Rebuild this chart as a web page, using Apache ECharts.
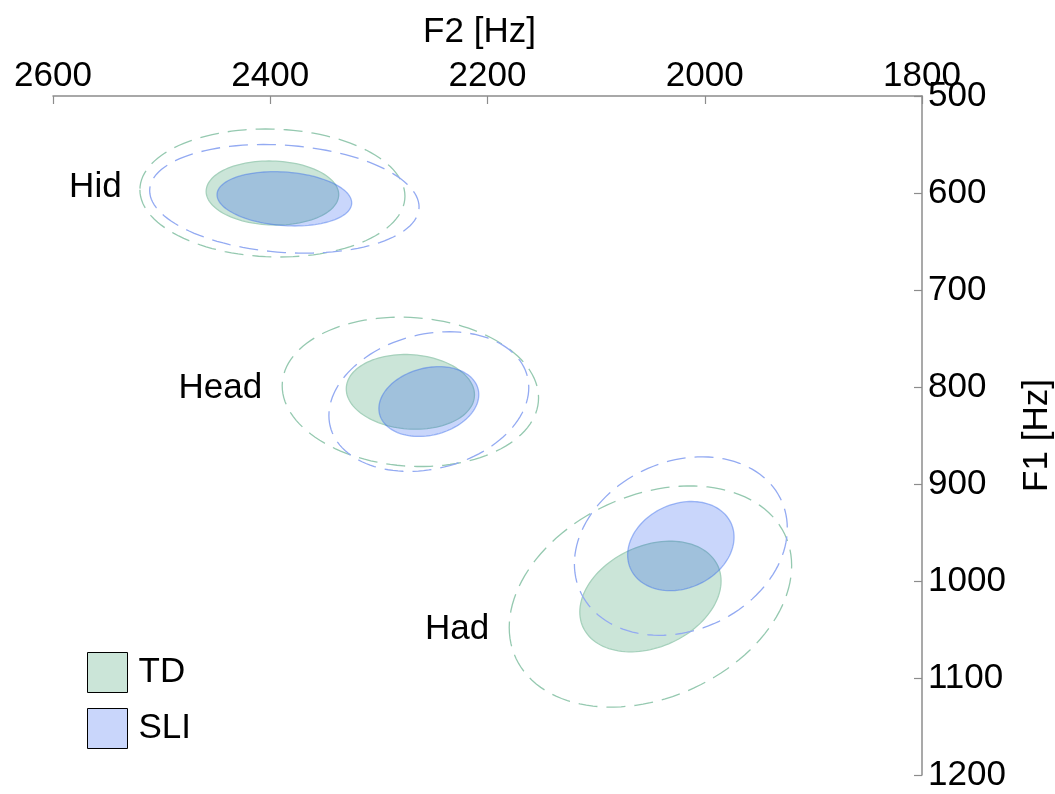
<!DOCTYPE html>
<html>
<head>
<meta charset="utf-8">
<script src="https://cdn.jsdelivr.net/npm/echarts@6/dist/echarts.min.js"></script>
<style>
html,body{margin:0;padding:0;background:#fff;}
#chart{width:1055px;height:794px;}
</style>
</head>
<body>
<div id="chart"></div>
<script>
// ---- data ----
var vowels = ['Hid', 'Head', 'Had'];
// TD group: mean F2, mean F1 (Hz), SD of F2, SD of F1, F2-F1 correlation
var tdMeanF2 = [2398, 2271, 2050];
var tdMeanF1 = [600, 805, 1016];
var tdSdF2 = [61, 59, 65];
var tdSdF1 = [33, 38.5, 57];
var tdRho = [-0.05, -0.08, 0.28];
// SLI group
var sliMeanF2 = [2387, 2254, 2022];
var sliMeanF1 = [606, 815, 964];
var sliSdF2 = [62, 46, 49];
var sliSdF1 = [28, 36, 46];
var sliRho = [-0.15, 0.2, 0.2];
// vowel label anchors (Hz)
var labelF2 = [2561, 2446, 2228];
var labelF1 = [594, 801, 1050];
// axis ticks
var f2Ticks = [1800, 2000, 2200, 2400, 2600];
var f1Ticks = [500, 600, 700, 800, 900, 1000, 1100, 1200];

var FONT = "'Liberation Sans', Arial, sans-serif";

function buildData(mF2, mF1, sF2, sF1, r) {
  return vowels.map(function (v, i) {
    return { name: v, value: [mF2[i], mF1[i], sF2[i], sF1[i], r[i]] };
  });
}

function ellipsePoints(api, k) {
  var m2 = api.value(0), m1 = api.value(1), s2 = api.value(2), s1 = api.value(3), rho = api.value(4);
  var pts = [];
  var n = 120;
  var q = Math.sqrt(1 - rho * rho);
  for (var j = 0; j < n; j++) {
    var t = 2 * Math.PI * j / n;
    var c = Math.cos(t), s = Math.sin(t);
    var f2 = m2 + k * s2 * c;
    var f1 = m1 + k * s1 * (rho * c + q * s);
    pts.push(api.coord([f2, f1]));
  }
  return pts;
}

function makeRender(fill, stroke, dash) {
  return function (params, api) {
    return {
      type: 'group',
      children: [
        {
          type: 'polygon',
          shape: { points: ellipsePoints(api, 1) },
          style: { fill: fill, stroke: stroke, lineWidth: 1.3 }
        },
        {
          type: 'polygon',
          shape: { points: ellipsePoints(api, 2) },
          style: { fill: 'none', stroke: dash, lineWidth: 1.3, lineDash: [19, 9] }
        }
      ]
    };
  };
}

// legend swatch colours (as seen on white) and translucent fills that give the same look
var TD_SWATCH = '#cbe5d8', SLI_SWATCH = '#c9d6fb';
var TD_FILL = 'rgba(82,168,125,0.3)';
var SLI_FILL = 'rgba(0,62,236,0.212)';

var chart = echarts.init(document.getElementById('chart'), null, { renderer: 'canvas' });
chart.setOption({
  animation: false,
  backgroundColor: '#ffffff',
  textStyle: { fontFamily: FONT },
  grid: { left: 53, right: 133, top: 96, bottom: 19, containLabel: false, outerBoundsMode: 'none' },
  xAxis: {
    type: 'value',
    position: 'top',
    inverse: true,
    min: f2Ticks[0],
    max: f2Ticks[f2Ticks.length - 1],
    interval: 200,
    name: 'F2 [Hz]',
    nameLocation: 'middle',
    nameGap: 46,
    nameTextStyle: { fontSize: 35, color: '#000', fontFamily: FONT, padding: [0, 16, 0, 0] },
    axisLine: { show: true, lineStyle: { color: '#8c8c8c', width: 1.5 } },
    axisTick: { show: true, inside: true, length: 8, lineStyle: { color: '#8c8c8c', width: 1.2 } },
    axisLabel: { show: true, fontSize: 35, color: '#000', margin: 2, fontFamily: FONT, showMinLabel: true, showMaxLabel: true,
      formatter: function (v) { return String(v); } },
    splitLine: { show: false }
  },
  yAxis: {
    type: 'value',
    position: 'right',
    inverse: true,
    min: f1Ticks[0],
    max: f1Ticks[f1Ticks.length - 1],
    interval: 100,
    name: 'F1 [Hz]',
    nameLocation: 'middle',
    nameRotate: 90,
    nameGap: 98,
    nameTextStyle: { fontSize: 35, color: '#000', fontFamily: FONT },
    axisLine: { show: true, lineStyle: { color: '#8c8c8c', width: 1.5 } },
    axisTick: { show: true, inside: true, length: 8, lineStyle: { color: '#8c8c8c', width: 1.2 } },
    axisLabel: { show: true, fontSize: 35, color: '#000', margin: 6, fontFamily: FONT, showMinLabel: true, showMaxLabel: true,
      formatter: function (v) { return String(v); } },
    splitLine: { show: false }
  },
  legend: {
    orient: 'vertical',
    left: 87,
    top: 652,
    padding: 0,
    itemWidth: 40,
    itemHeight: 40,
    itemGap: 15,
    icon: 'rect',
    selectedMode: false,
    textStyle: { fontSize: 35, color: '#000', fontFamily: FONT, padding: [0, 0, 0, 6] },
    data: [
      { name: 'TD', itemStyle: { color: TD_SWATCH, borderColor: '#000', borderWidth: 1 } },
      { name: 'SLI', itemStyle: { color: SLI_SWATCH, borderColor: '#000', borderWidth: 1 } }
    ]
  },
  series: [
    {
      name: 'TD',
      type: 'custom',
      coordinateSystem: 'cartesian2d',
      itemStyle: { color: TD_SWATCH },
      renderItem: makeRender(TD_FILL, '#a6d1bc', '#95c9b0'),
      encode: { x: 0, y: 1 },
      data: buildData(tdMeanF2, tdMeanF1, tdSdF2, tdSdF1, tdRho),
      silent: true,
      z: 2
    },
    {
      name: 'SLI',
      type: 'custom',
      coordinateSystem: 'cartesian2d',
      itemStyle: { color: SLI_SWATCH },
      renderItem: makeRender(SLI_FILL, 'rgba(60,110,235,0.45)', '#93aaf2'),
      encode: { x: 0, y: 1 },
      data: buildData(sliMeanF2, sliMeanF1, sliSdF2, sliSdF1, sliRho),
      silent: true,
      z: 3
    },
    {
      name: 'labels',
      type: 'custom',
      coordinateSystem: 'cartesian2d',
      silent: true,
      encode: { x: 0, y: 1 },
      data: vowels.map(function (v, i) { return { name: v, value: [labelF2[i], labelF1[i]] }; }),
      renderItem: function (params, api) {
        var p = api.coord([api.value(0), api.value(1)]);
        return {
          type: 'text',
          x: p[0], y: p[1],
          style: {
            text: vowels[params.dataIndex],
            fill: '#000',
            fontSize: 35,
            fontFamily: FONT,
            align: 'center',
            verticalAlign: 'middle'
          }
        };
      },
      z: 4
    }
  ]
});
</script>
</body>
</html>
